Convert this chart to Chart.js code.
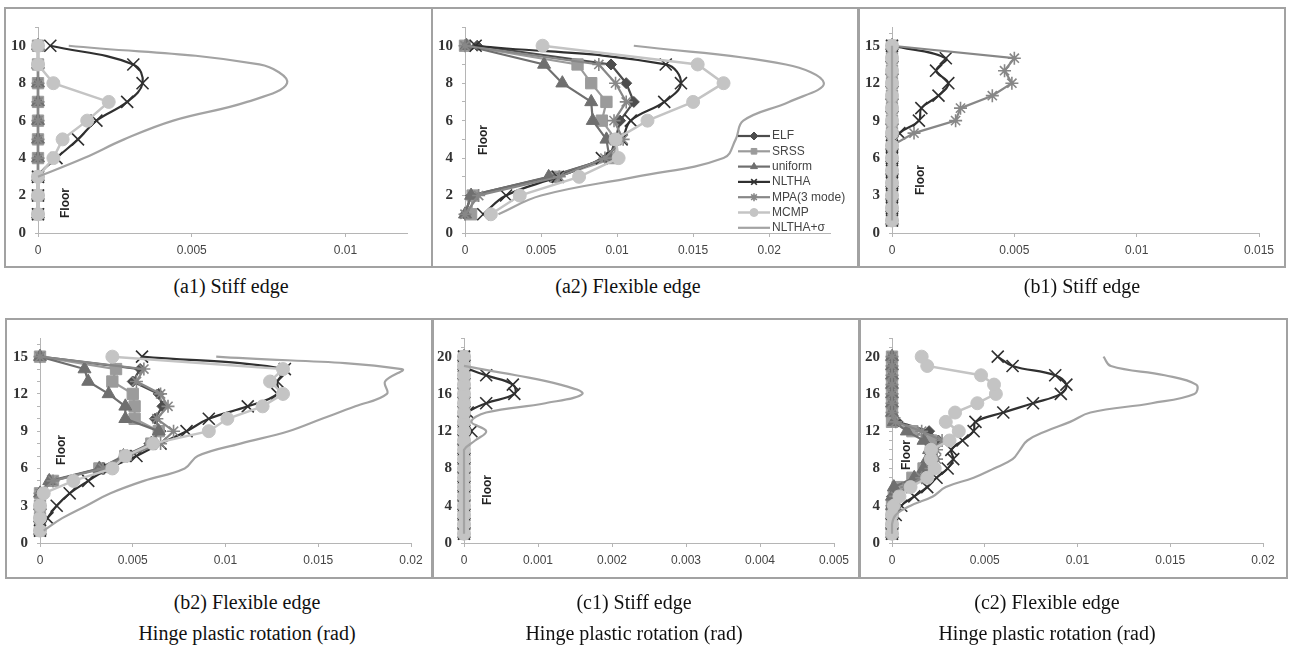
<!DOCTYPE html>
<html>
<head>
<meta charset="utf-8">
<script src="https://cdn.jsdelivr.net/npm/chart.js@4.4.1/dist/chart.umd.min.js"></script>
<style>
  body { margin: 0; background: #fff; width: 1289px; height: 648px; position: relative; overflow: hidden; }
  .panel { position: absolute; border: 2px solid #a2a2a2; box-sizing: border-box; }
  .panel canvas { position: absolute; left: 0; top: 0; }
  .floor { position: absolute; font: bold 12px "Liberation Sans", Arial, sans-serif; color: #222;
           transform: translate(-50%, -50%) rotate(-90deg); white-space: nowrap; }
  .cap { position: absolute; width: 400px; text-align: center; line-height: 1;
         font: 20px "Liberation Serif", "Times New Roman", serif; color: #111; transform: translateY(-50%); }
</style>
</head>
<body>
<script>
/* ================= DATA ================= */
const seriesNames = ["ELF", "SRSS", "uniform", "NLTHA", "MPA(3 mode)", "MCMP", "NLTHA+σ"];

// (a1) stiff edge, 10 floors
const a1Floors = [1, 2, 3, 4, 5, 6, 7, 8, 9, 10];
const a1Elf = [0, 0, 0, 0, 0, 0, 0, 0, 0, 0];
const a1Srss = [0, 0, 0, 0, 0, 0, 0, 0, 0, 0];
const a1Uniform = [0, 0, 0, 0, 0, 0, 0, 0, 0, 0];
const a1Nltha = [0, 0, 0, 0.0006, 0.0013, 0.0019, 0.0029, 0.0034, 0.0031, 0.0004];
const a1Mpa = [0, 0, 0, 0, 0, 0, 0, 0, 0, 0];
const a1Mcmp = [0, 0, 0, 0.0005, 0.0008, 0.0016, 0.0023, 0.0005, 0, 0];
const a1NlthaSd = [null, null, 0, 0.0015, 0.0028, 0.0044, 0.0068, 0.0081, 0.0072, 0.0010];

// (a2) flexible edge, 10 floors
const a2Floors = [1, 2, 3, 4, 5, 6, 7, 8, 9, 10];
const a2Elf = [0, 0.0004, 0.0056, 0.0095, 0.0099, 0.0102, 0.0111, 0.0106, 0.0096, 0.0008];
const a2Srss = [0.0004, 0.0005, 0.0060, 0.0098, 0.0099, 0.0090, 0.0093, 0.0083, 0.0074, 0];
const a2Uniform = [0, 0.0004, 0.0055, 0.0095, 0.0093, 0.0084, 0.0083, 0.0064, 0.0052, 0.0001];
const a2Nltha = [0.0012, 0.0027, 0.0061, 0.0090, 0.0103, 0.0109, 0.0131, 0.0142, 0.0132, 0.0007];
const a2Mpa = [0, 0.0009, 0.0062, 0.0092, 0.0104, 0.0098, 0.0106, 0.0099, 0.0088, 0];
const a2Mcmp = [0.0017, 0.0036, 0.0075, 0.0101, 0.0099, 0.0120, 0.0150, 0.0170, 0.0153, 0.0051];
const a2NlthaSd = [0.0022, 0.0050, 0.0112, 0.0170, 0.0178, 0.0183, 0.0213, 0.0236, 0.0211, 0.0111];

// (b1) stiff edge, 15 floors
const b1Floors = [1, 2, 3, 4, 5, 6, 7, 8, 9, 10, 11, 12, 13, 14, 15];
const b1Elf = [0, 0, 0, 0, 0, 0, 0, 0, 0, 0, 0, 0, 0, 0, 0];
const b1Srss = [0, 0, 0, 0, 0, 0, 0, 0, 0, 0, 0, 0, 0, 0, 0];
const b1Uniform = [0, 0, 0, 0, 0, 0, 0, 0, 0, 0, 0, 0, 0, 0, 0];
const b1Nltha = [0, 0, 0, 0, 0, 0, 0, 0.0003, 0.0011, 0.0012, 0.0019, 0.0023, 0.0018, 0.0022, 0];
const b1Mpa = [0, 0, 0, 0, 0, 0, 0, 0.0009, 0.0026, 0.0028, 0.0041, 0.0049, 0.0046, 0.0050, 0];
const b1Mcmp = [0, 0, 0, 0, 0, 0, 0, 0, 0, 0, 0, 0, 0, 0, 0];
const b1NlthaSd = [0, 0, 0, 0, 0, 0, 0, 0, 0, 0, 0, 0, 0, 0, 0];

// (b2) flexible edge, 15 floors
const b2Floors = [1, 2, 3, 4, 5, 6, 7, 8, 9, 10, 11, 12, 13, 14, 15];
const b2Elf = [0, 0, 0, 0, 0.0006, 0.0033, 0.0047, 0.0059, 0.0065, 0.0062, 0.0066, 0.0064, 0.0050, 0.0054, 0];
const b2Srss = [0, 0, 0, 0, 0.0007, 0.0032, 0.0046, 0.0060, 0.0064, 0.0051, 0.0051, 0.0050, 0.0039, 0.0041, 0];
const b2Uniform = [0, 0, 0, 0, 0.0005, 0.0032, 0.0045, 0.0060, 0.0064, 0.0046, 0.0046, 0.0037, 0.0026, 0.0024, 0];
const b2Nltha = [0, 0.0004, 0.0009, 0.0016, 0.0026, 0.0037, 0.0052, 0.0065, 0.0079, 0.0091, 0.0112, 0.0128, 0.0128, 0.0132, 0.0055];
const b2Mpa = [0, 0, 0, 0, 0.0007, 0.0034, 0.0047, 0.0065, 0.0072, 0.0063, 0.0069, 0.0065, 0.0052, 0.0056, 0];
const b2Mcmp = [0, 0, 0, 0.0002, 0.0018, 0.0039, 0.0046, 0.0061, 0.0091, 0.0101, 0.0120, 0.0131, 0.0124, 0.0131, 0.0039];
const b2NlthaSd = [0.0002, 0.0012, 0.0025, 0.0038, 0.0056, 0.0078, 0.0085, 0.0108, 0.0134, 0.0152, 0.0170, 0.0187, 0.0186, 0.0195, 0.0095];

// (c1) stiff edge, 20 floors
const c1Floors = [1, 2, 3, 4, 5, 6, 7, 8, 9, 10, 11, 12, 13, 14, 15, 16, 17, 18, 19, 20];
const c1Elf = [0, 0, 0, 0, 0, 0, 0, 0, 0, 0, 0, 0, 0, 0, 0, 0, 0, 0, 0, 0];
const c1Srss = [0, 0, 0, 0, 0, 0, 0, 0, 0, 0, 0, 0, 0, 0, 0, 0, 0, 0, 0, 0];
const c1Uniform = [0, 0, 0, 0, 0, 0, 0, 0, 0, 0, 0, 0, 0, 0, 0, 0, 0, 0, 0, 0];
const c1Nltha = [0, 0, 0, 0, 0, 0, 0, 0, 0, 0, 0, 0.0001, 0, 0.00005, 0.0003, 0.00068, 0.00066, 0.0003, 0, 0];
const c1Mpa = [0, 0, 0, 0, 0, 0, 0, 0, 0, 0, 0, 0, 0, 0, 0, 0, 0, 0, 0, 0];
const c1Mcmp = [0, 0, 0, 0, 0, 0, 0, 0, 0, 0, 0, 0, 0, 0, 0, 0, 0, 0, 0, 0];
const c1NlthaSd = [0, 0, 0, 0, 0, 0, 0, 0, 0, 0, 0.00015, 0.0003, 0.0001, 0.0003, 0.0011, 0.0016, 0.0013, 0.0007, 0, null];

// (c2) flexible edge, 20 floors
const c2Floors = [1, 2, 3, 4, 5, 6, 7, 8, 9, 10, 11, 12, 13, 14, 15, 16, 17, 18, 19, 20];
const c2Elf = [0, 0, 0, 0, 0, 0.0005, 0.0013, 0.0019, 0.0023, 0.0022, 0.0025, 0.0020, 0.0003, 0, 0, 0, 0, 0, 0, 0];
const c2Srss = [0, 0, 0, 0, 0.0001, 0.0003, 0.0011, 0.0017, 0.0021, 0.0021, 0.0021, 0.0011, 0, 0, 0, 0, 0, 0, 0, 0];
const c2Uniform = [0, 0, 0, 0, 0, 0.0001, 0.0012, 0.0017, 0.0019, 0.0020, 0.0017, 0.0008, 0.0001, 0, 0, 0, 0, 0, 0, 0];
const c2Nltha = [0, 0, 0.0002, 0.0005, 0.0012, 0.0019, 0.0024, 0.0030, 0.0033, 0.0032, 0.0038, 0.0044, 0.0045, 0.0060, 0.0076, 0.0091, 0.0094, 0.0088, 0.0065, 0.0057];
const c2Mpa = [0, 0, 0, 0, 0.0002, 0.0008, 0.0016, 0.0021, 0.0024, 0.0024, 0.0027, 0.0016, 0.0002, 0, 0, 0, 0, 0, 0, 0];
const c2Mcmp = [0, 0, 0, 0.0001, 0.0004, 0.0010, 0.0019, 0.0023, 0.0021, 0.0021, 0.0031, 0.0036, 0.0029, 0.0034, 0.0046, 0.0056, 0.0055, 0.0048, 0.0019, 0.0016];
const c2NlthaSd = [0, 0, 0.0002, 0.0010, 0.0022, 0.0029, 0.0044, 0.0055, 0.0065, 0.0069, 0.0073, 0.0083, 0.0096, 0.0107, 0.0140, 0.0163, 0.0164, 0.0147, 0.0118, 0.0114];

/* ================= STYLES ================= */
const seriesStyle = [
  { color: "#4d4d4d", point: "rectRot",  r: 5.5, w: 2.2, tension: 0 },
  { color: "#9b9b9b", point: "rect",     r: 8,   w: 2.2, tension: 0 },
  { color: "#6f6f6f", point: "triangle", r: 7.5, w: 2.2, tension: 0 },
  { color: "#303030", point: "crossRot", r: 8.5, w: 2.2, tension: 0.4 },
  { color: "#878787", point: "star",     r: 6.5, w: 2.2, tension: 0 },
  { color: "#c4c4c4", point: "circle",   r: 6.5, w: 2.5, tension: 0 },
  { color: "#a3a3a3", point: "circle",   r: 0,   w: 2.2, tension: 0.4 }
];

// box = outer frame [left, top, width, height]; yW/padR/top/xH place the plot area inside it
const panels = [
  { box: [4, 7, 429, 261], yW: 32, padR: 24, top: 16, xH: 33, xMax: 0.012, xStep: 0.005, yMax: 11, yMajor: 2,
    floors: a1Floors, series: [a1Elf, a1Srss, a1Uniform, a1Nltha, a1Mpa, a1Mcmp, a1NlthaSd],
    floorAt: [65, 203], cap: ["(a1) Stiff edge"], capX: 231 },
  { box: [431, 7, 429, 261], yW: 32, padR: 28, top: 16, xH: 33, xMax: 0.024, xStep: 0.005, yMax: 11, yMajor: 2,
    floors: a2Floors, series: [a2Elf, a2Srss, a2Uniform, a2Nltha, a2Mpa, a2Mcmp, a2NlthaSd],
    floorAt: [483, 140], cap: ["(a2) Flexible edge"], capX: 628, legend: { x: 305, y: 127, line: 32, row: 15.3 } },
  { box: [857, 7, 429, 261], yW: 33, padR: 25, top: 16, xH: 33, xMax: 0.015, xStep: 0.005, yMax: 16.5, yMajor: 3,
    floors: b1Floors, series: [b1Elf, b1Srss, b1Uniform, b1Nltha, b1Mpa, b1Mcmp, b1NlthaSd],
    floorAt: [920, 180], cap: ["(b1) Stiff edge"], capX: 1082 },
  { box: [5, 318, 429, 261], yW: 33, padR: 21, top: 15, xH: 34, xMax: 0.02, xStep: 0.005, yMax: 16.5, yMajor: 3,
    floors: b2Floors, series: [b2Elf, b2Srss, b2Uniform, b2Nltha, b2Mpa, b2Mcmp, b2NlthaSd],
    floorAt: [61, 450], cap: ["(b2) Flexible edge", "Hinge plastic rotation (rad)"], capX: 247 },
  { box: [431, 318, 429, 261], yW: 31, padR: 24, top: 15, xH: 34, xMax: 0.005, xStep: 0.001, yMax: 22, yMajor: 4,
    floors: c1Floors, series: [c1Elf, c1Srss, c1Uniform, c1Nltha, c1Mpa, c1Mcmp, c1NlthaSd],
    floorAt: [487, 490], cap: ["(c1) Stiff edge", "Hinge plastic rotation (rad)"], capX: 634 },
  { box: [859, 318, 429, 261], yW: 31, padR: 23, top: 15, xH: 34, xMax: 0.02, xStep: 0.005, yMax: 22, yMajor: 4,
    floors: c2Floors, series: [c2Elf, c2Srss, c2Uniform, c2Nltha, c2Mpa, c2Mcmp, c2NlthaSd],
    floorAt: [906, 455], cap: ["(c2) Flexible edge", "Hinge plastic rotation (rad)"], capX: 1047 }
];

/* ================= LEGEND INSIDE PLOT ================= */
const insideLegend = {
  id: "insideLegend",
  afterDatasetsDraw(chart, args, opts) {
    if (!opts || !opts.display) return;
    const ctx = chart.ctx;
    ctx.save();
    chart.data.datasets.forEach((ds, i) => {
      const y = opts.y + i * opts.row;
      ctx.strokeStyle = ds.borderColor;
      ctx.lineWidth = ds.borderWidth;
      ctx.beginPath();
      ctx.moveTo(opts.x, y);
      ctx.lineTo(opts.x + opts.line, y);
      ctx.stroke();
      if (ds.pointRadius > 0) {
        ctx.fillStyle = ds.pointBackgroundColor;
        ctx.strokeStyle = ds.pointBorderColor;
        ctx.lineWidth = ds.pointBorderWidth;
        Chart.helpers.drawPoint(ctx, { pointStyle: ds.pointStyle, radius: 4, rotation: 0, borderWidth: ds.pointBorderWidth },
          opts.x + opts.line / 2, y);
      }
      ctx.fillStyle = "#444";
      ctx.font = '12px "Liberation Sans", Arial, sans-serif';
      ctx.textBaseline = "middle";
      ctx.fillText(ds.label, opts.x + opts.line + 2, y);
    });
    ctx.restore();
  }
};

function toPoints(floors, vals) {
  return floors
    .map((f, i) => (vals[i] == null ? null : { x: vals[i], y: f }))
    .filter(Boolean);
}

function fmtX(v) {
  return String(parseFloat(Number(v).toFixed(6)));
}

/* ================= RENDER ================= */
panels.forEach((p) => {
  const [l, t, w, h] = p.box;
  const div = document.createElement("div");
  div.className = "panel";
  div.style.left = l + "px";
  div.style.top = t + "px";
  div.style.width = w + "px";
  div.style.height = h + "px";
  const canvas = document.createElement("canvas");
  canvas.width = w - 4;
  canvas.height = h - 4;
  div.appendChild(canvas);
  document.body.appendChild(div);

  const fl = document.createElement("div");
  fl.className = "floor";
  fl.textContent = "Floor";
  fl.style.left = p.floorAt[0] + "px";
  fl.style.top = p.floorAt[1] + "px";
  document.body.appendChild(fl);

  p.cap.forEach((txt, k) => {
    const c = document.createElement("div");
    c.className = "cap";
    c.textContent = txt;
    c.style.left = (p.capX - 200) + "px";
    c.style.top = (t < 100 ? 286 : 602 + k * 31) + "px";
    document.body.appendChild(c);
  });

  const datasets = p.series.map((vals, i) => {
    const s = seriesStyle[i];
    return {
      label: seriesNames[i],
      data: toPoints(p.floors, vals),
      showLine: true,
      borderColor: s.color,
      backgroundColor: s.color,
      borderWidth: s.w,
      pointStyle: s.point,
      pointRadius: s.r,
      pointBackgroundColor: s.color,
      pointBorderColor: s.color,
      pointBorderWidth: s.point === "crossRot" || s.point === "star" ? 1.6 : 1,
      tension: s.tension,
      clip: false,
      order: seriesNames.length - i
    };
  });

  new Chart(canvas, {
    type: "scatter",
    data: { datasets },
    plugins: [insideLegend],
    options: {
      responsive: false,
      animation: false,
      events: [],
      layout: { padding: { top: p.top, right: p.padR, left: 0, bottom: 0 } },
      plugins: {
        legend: { display: false },
        tooltip: { enabled: false },
        insideLegend: p.legend ? Object.assign({ display: true }, p.legend) : { display: false }
      },
      scales: {
        x: {
          type: "linear",
          min: 0,
          max: p.xMax,
          afterFit: (scale) => { scale.height = p.xH; },
          border: { display: true, color: "#b5b5b5", width: 1 },
          grid: { drawOnChartArea: false, drawTicks: true, tickLength: 4, color: "#b5b5b5" },
          ticks: {
            stepSize: p.xStep,
            includeBounds: false,
            autoSkip: false,
            maxRotation: 0,
            padding: 6,
            color: "#444",
            font: { family: '"Liberation Sans", Arial, sans-serif', size: 12 },
            callback: fmtX
          }
        },
        y: {
          type: "linear",
          min: 0,
          max: p.yMax,
          afterFit: (scale) => { scale.width = p.yW; },
          border: { display: true, color: "#b5b5b5", width: 1 },
          grid: { drawOnChartArea: false, drawTicks: true, tickLength: 3, color: "#b5b5b5" },
          ticks: {
            stepSize: 1,
            includeBounds: false,
            autoSkip: false,
            padding: 9,
            color: "#333",
            font: { family: '"Liberation Serif", "Times New Roman", serif', size: 15, weight: "bold" },
            callback: (v) => (v % p.yMajor === 0 ? String(v) : "")
          }
        }
      }
    }
  });
});
</script>
</body>
</html>
